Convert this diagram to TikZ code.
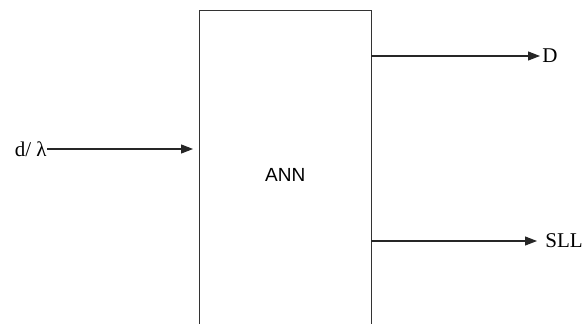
\documentclass[tikz,border=0pt]{standalone}
\usepackage{fontspec}
\setmainfont{Liberation Serif}
\setsansfont{Liberation Sans}
\usetikzlibrary{arrows.meta}
\tikzset{
  sig/.style={-{Triangle[length=12pt,width=9pt]}, line width=1.1pt, black!85},
  lbl/.style={font=\fontsize{21}{24}\selectfont, inner sep=2pt}
}
\begin{document}
\begin{tikzpicture}[x=1pt, y=-1pt, line width=0.9pt]
  \useasboundingbox (0,0) rectangle (584,324);
  \clip (0,0) rectangle (584,324);
  % network block, running past the lower edge
  \node[draw=black!80, minimum width=171.5pt, minimum height=330pt, inner sep=0pt,
        font=\sffamily\fontsize{19}{22}\selectfont] (ann) at (285.25,175) {ANN};
  % input
  \node[lbl, anchor=east, inner sep=0pt] (inp) at (47,149) {d/ λ};
  \draw[sig, shorten >=6pt] (inp.east) -- (ann.west |- inp.east);
  % outputs
  \node[lbl, anchor=west] (dout) at (540,56) {D};
  \node[lbl, anchor=west, inner xsep=5pt] (sll) at (540,241) {SLL};
  \draw[sig] (ann.east |- dout.west) -- (dout.west);
  \draw[sig, shorten >=3pt] (ann.east |- sll.west) -- (sll.west);
\end{tikzpicture}
\end{document}
